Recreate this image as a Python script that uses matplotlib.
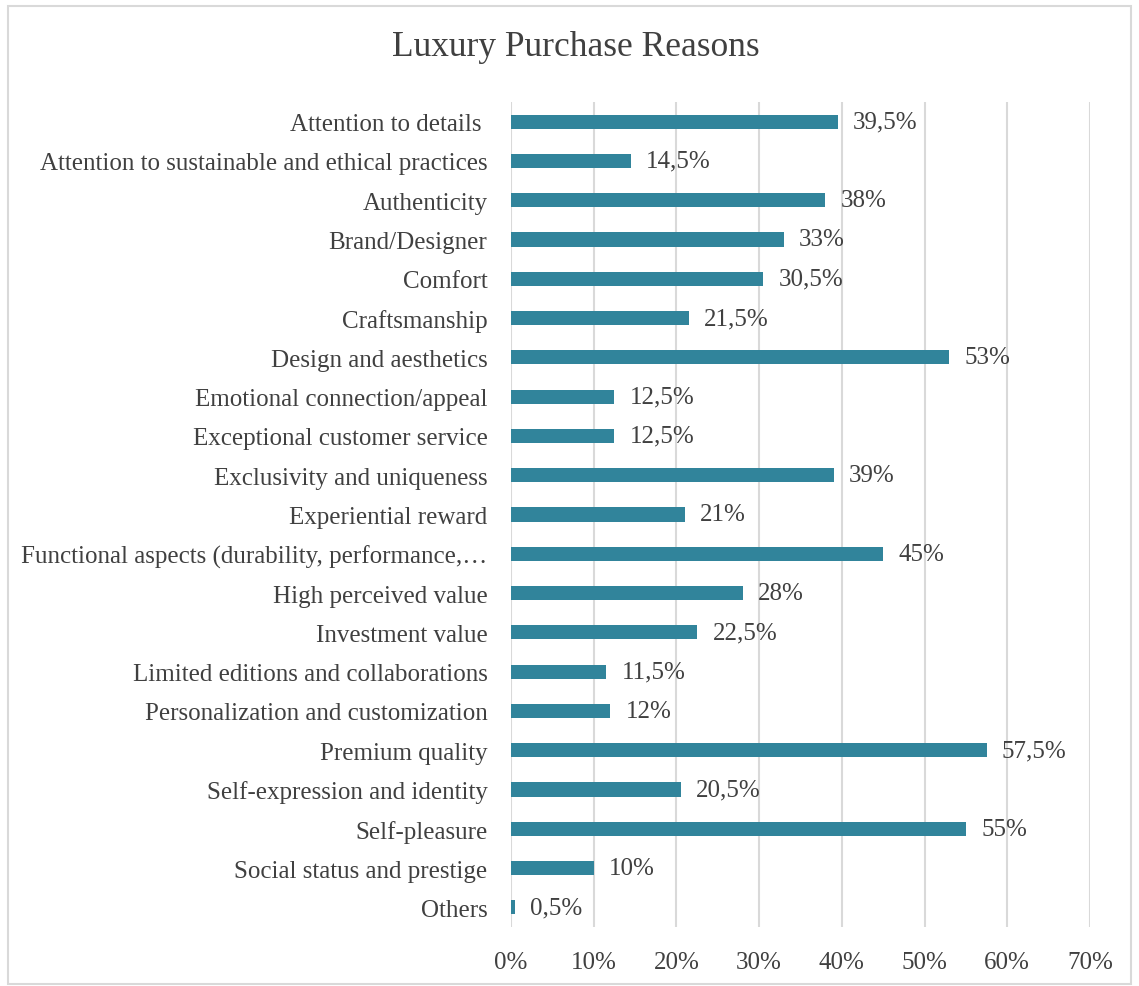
import matplotlib.pyplot as plt
from matplotlib.patches import Rectangle
from matplotlib.ticker import FuncFormatter

reasons = [
    "Attention to details ",
    "Attention to sustainable and ethical practices",
    "Authenticity",
    "Brand/Designer",
    "Comfort",
    "Craftsmanship",
    "Design and aesthetics",
    "Emotional connection/appeal",
    "Exceptional customer service",
    "Exclusivity and uniqueness",
    "Experiential reward",
    "Functional aspects (durability, performance,\u2026",
    "High perceived value",
    "Investment value",
    "Limited editions and collaborations",
    "Personalization and customization",
    "Premium quality",
    "Self-expression and identity",
    "Self-pleasure",
    "Social status and prestige",
    "Others",
]
share = [39.5, 14.5, 38, 33, 30.5, 21.5, 53, 12.5, 12.5, 39, 21, 45, 28,
         22.5, 11.5, 12, 57.5, 20.5, 55, 10, 0.5]
xticks = [0, 10, 20, 30, 40, 50, 60, 70]

txt = "#404040"
plt.rcParams['font.family'] = ['Liberation Serif', 'DejaVu Serif']

fig = plt.figure(figsize=(11.39, 9.87), dpi=100)
fig.set_facecolor("white")
fig.patches.append(Rectangle((8 / 1139, 2 / 987), 1123 / 1139, 978 / 987,
                             transform=fig.transFigure, fill=False,
                             edgecolor="#d9d9d9", linewidth=1.5))

ax = fig.add_axes([511 / 1139, 1 - 928 / 987, 579 / 1139, 825 / 987])
ypos = list(range(len(reasons)))
bars = ax.barh(ypos, share, height=0.36, color="#31849b", zorder=3)
ax.bar_label(bars, labels=[f"{v:g}".replace(".", ",") + "%" for v in share],
             padding=11, fontsize=18, color=txt)

ax.set_ylim(len(reasons) - 0.5, -0.5)
ax.set_xlim(0, 70)
ax.set_yticks(ypos)
ax.set_yticklabels(reasons, fontsize=18, color=txt)
ax.set_xticks(xticks)
ax.xaxis.set_major_formatter(FuncFormatter(lambda v, p: f"{v:.0f}%"))
ax.tick_params(axis="x", length=0, pad=17, labelsize=18, labelcolor=txt)
ax.tick_params(axis="y", length=0, pad=17)
ax.grid(axis="x", color="#d9d9d9", linewidth=1.5, zorder=0)
for s in ax.spines.values():
    s.set_visible(False)

fig.text(576 / 1139, 1 - 48 / 987, "Luxury Purchase Reasons", ha="center",
         va="center", fontsize=25.5, color=txt)

fig.savefig("out.png", dpi=100)
